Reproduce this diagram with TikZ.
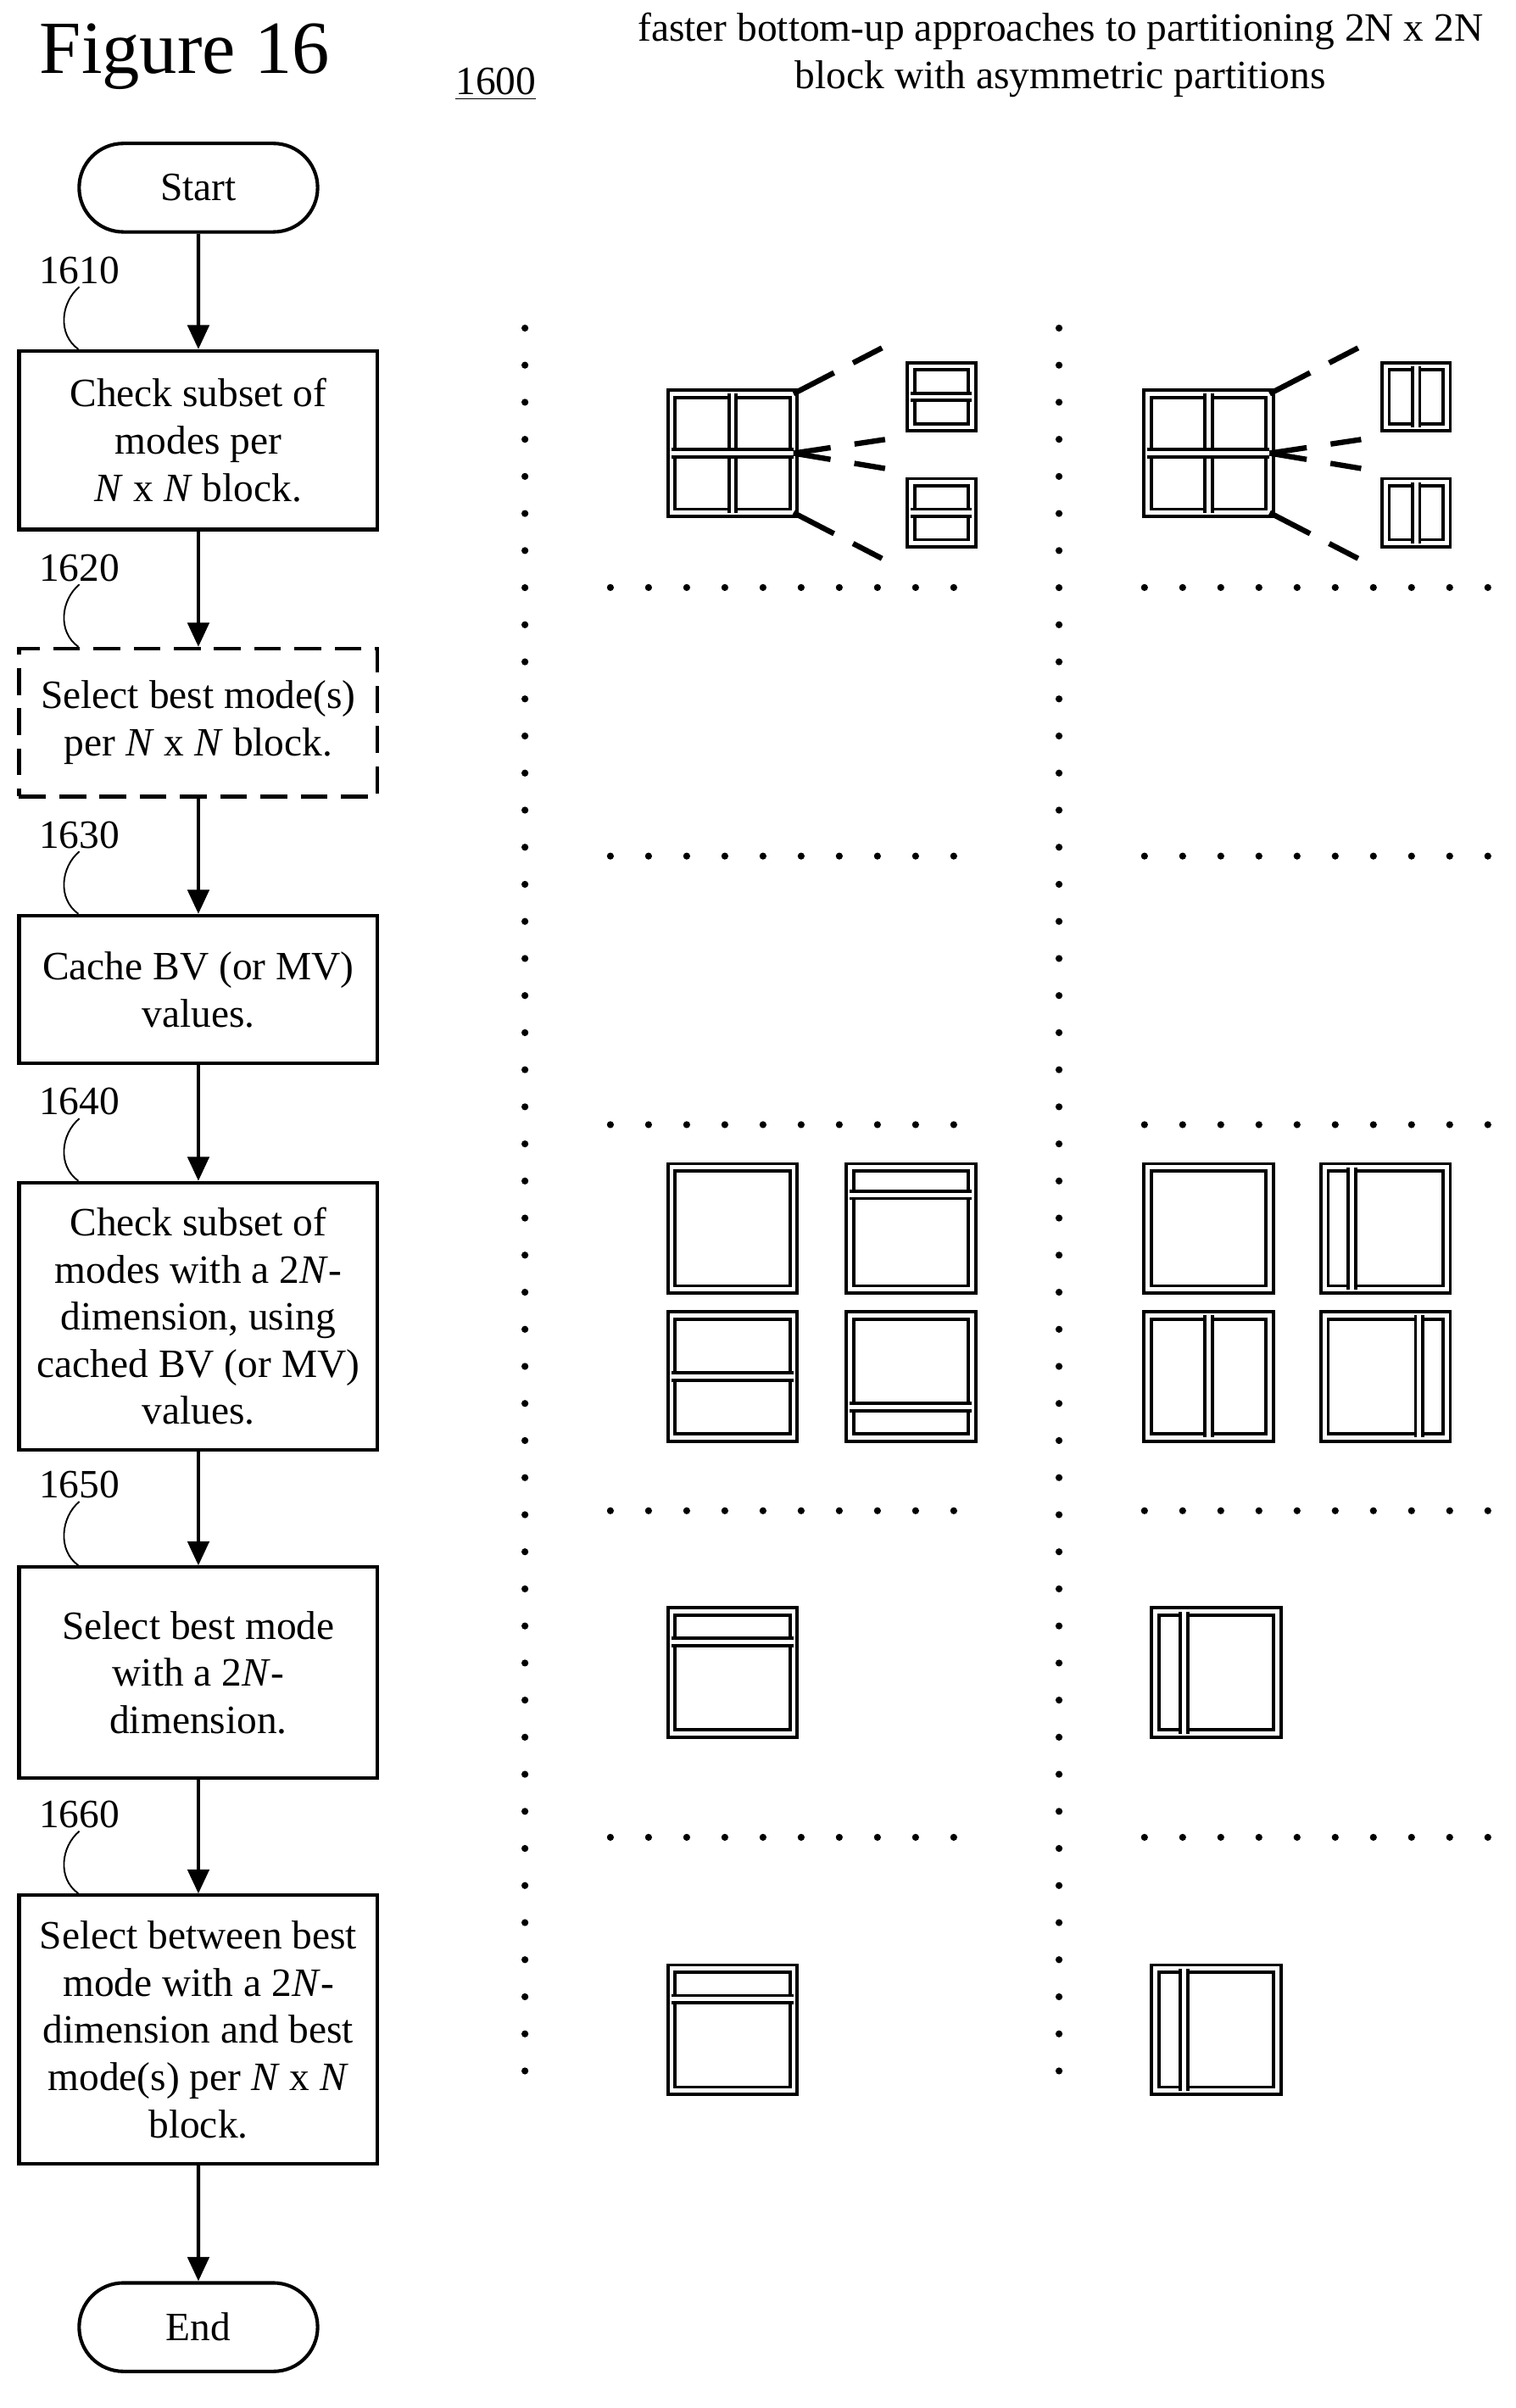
\documentclass[tikz,border=0pt]{standalone}
\usepackage{fontspec}
\setmainfont{Liberation Serif}
\usetikzlibrary{arrows.meta,shapes.misc}
\begin{document}
\begin{tikzpicture}[x=0.02cm, y=-0.02cm,
    font=\fontsize{15}{17.6}\selectfont,
    procbox/.style={rectangle, draw, line width=1.3pt,
      minimum width=235*0.02cm, align=center, inner sep=2pt},
    term/.style={rounded rectangle, draw, line width=1.3pt,
      minimum width=168*0.02cm, minimum height=58*0.02cm},
    flow/.style={-{Triangle[length=9pt, width=8pt]}, line width=1.3pt},
    ref/.style={inner sep=1pt},
    part/.style={draw, double, line width=1.2pt, double distance=1.5pt},
    fan/.style={line width=2pt, dash pattern=on 17pt off 8pt},
    ]
    \useasboundingbox (0,0) rectangle (993,1578);

    % heading
    \node[font=\fontsize{28}{30}\selectfont] (fig) at (121,37) {Figure 16};
    \node (num) at (325,55) {\underline{1600}};
    \node[align=center] (title) at (695,36)
      {faster bottom-up approaches to partitioning 2N x 2N\\block with asymmetric partitions};

    % flow chart
    \node[term] (start) at (130,123) {Start};

    \node[procbox, minimum height=117*0.02cm] (s1) at (130,288.5)
      {Check subset of\\modes per\\\textit{N} x \textit{N} block.};
    \node[procbox, dashed, dash pattern=on 10pt off 5pt,
      minimum height=97*0.02cm] (s2) at (130,473.5)
      {Select best mode(s)\\per \textit{N} x \textit{N} block.};
    \node[procbox, minimum height=97*0.02cm] (s3) at (130,648.5)
      {Cache BV (or MV)\\values.};
    \node[procbox, minimum height=175*0.02cm] (s4) at (130,862.5)
      {Check subset of\\modes with a 2\textit{N}-\\dimension, using\\cached BV (or MV)\\values.};
    \node[procbox, minimum height=138*0.02cm] (s5) at (130,1096)
      {Select best mode\\with a 2\textit{N}-\\dimension.};
    \node[procbox, minimum height=176*0.02cm] (s6) at (130,1330)
      {Select between best\\mode with a 2\textit{N}-\\dimension and best\\mode(s) per \textit{N} x \textit{N}\\block.};

    \node[term] (end) at (130,1525) {End};

    \draw[flow] (start)--(s1);
    \draw[flow] (s1)--(s2);
    \draw[flow] (s2)--(s3);
    \draw[flow] (s3)--(s4);
    \draw[flow] (s4)--(s5);
    \draw[flow] (s5)--(s6);
    \draw[flow] (s6)--(end);

    % reference numbers
    \foreach \lab/\y/\blk in {1610/177/s1, 1620/372/s2, 1630/547/s3,
        1640/722/s4, 1650/973/s5, 1660/1189/s6} {
      \node[ref] (r\lab) at (52,\y) {\lab};
      \coordinate (c\lab) at ([xshift=40*0.02cm]\blk.north west);
      \draw[line width=0.6pt] (r\lab.south)
        .. controls +(-12,10) and +(-14,-10) .. (c\lab);
    }

    % dotted grid
    \foreach \x in {344,694}
      \foreach \y in {0,...,47}
        \fill (\x,215+\y*24.3) circle (1.3pt);
    \foreach \y in {385,561,737,990,1204} {
      \foreach \i in {0,...,9} {
        \fill (400+\i*25,\y) circle (1.3pt);
        \fill (750+\i*25,\y) circle (1.3pt);
      }
    }

    % NxN split, horizontal halves
    \draw[part] (440,258) rectangle (520,336);
    \draw[part] (480,258)--(480,336);
    \draw[part] (440,297)--(520,297);
    \draw[part] (597,240) rectangle (637,280);
    \draw[part] (597,260)--(637,260);
    \draw[part] (597,316) rectangle (637,356);
    \draw[part] (597,336)--(637,336);
    \draw[fan] (520,258)--(578,228);
    \draw[fan, dash pattern=on 14pt off 9pt] (520,297)--(580,288);
    \draw[fan, dash pattern=on 14pt off 9pt] (520,297)--(580,307);
    \draw[fan] (520,336)--(578,366);

    % NxN split, vertical halves
    \draw[part] (752,258) rectangle (832,336);
    \draw[part] (792,258)--(792,336);
    \draw[part] (752,297)--(832,297);
    \draw[part] (908,240) rectangle (948,280);
    \draw[part] (928,240)--(928,280);
    \draw[part] (908,316) rectangle (948,356);
    \draw[part] (928,316)--(928,356);
    \draw[fan] (832,258)--(890,228);
    \draw[fan, dash pattern=on 14pt off 9pt] (832,297)--(892,288);
    \draw[fan, dash pattern=on 14pt off 9pt] (832,297)--(892,307);
    \draw[fan] (832,336)--(890,366);

    % 2Nx2N candidates
    \draw[part] (440,765) rectangle (520,845);
    \draw[part] (557,765) rectangle (637,845);
    \draw[part] (557,783)--(637,783);
    \draw[part] (440,862) rectangle (520,942);
    \draw[part] (440,902)--(520,902);
    \draw[part] (557,862) rectangle (637,942);
    \draw[part] (557,922)--(637,922);

    \draw[part] (752,765) rectangle (832,845);
    \draw[part] (868,765) rectangle (948,845);
    \draw[part] (886,765)--(886,845);
    \draw[part] (752,862) rectangle (832,942);
    \draw[part] (792,862)--(792,942);
    \draw[part] (868,862) rectangle (948,942);
    \draw[part] (930,862)--(930,942);

    % best 2N modes
    \draw[part] (440,1056) rectangle (520,1136);
    \draw[part] (440,1076)--(520,1076);
    \draw[part] (757,1056) rectangle (837,1136);
    \draw[part] (776,1056)--(776,1136);

    \draw[part] (440,1290) rectangle (520,1370);
    \draw[part] (440,1310)--(520,1310);
    \draw[part] (757,1290) rectangle (837,1370);
    \draw[part] (776,1290)--(776,1370);
\end{tikzpicture}
\end{document}
